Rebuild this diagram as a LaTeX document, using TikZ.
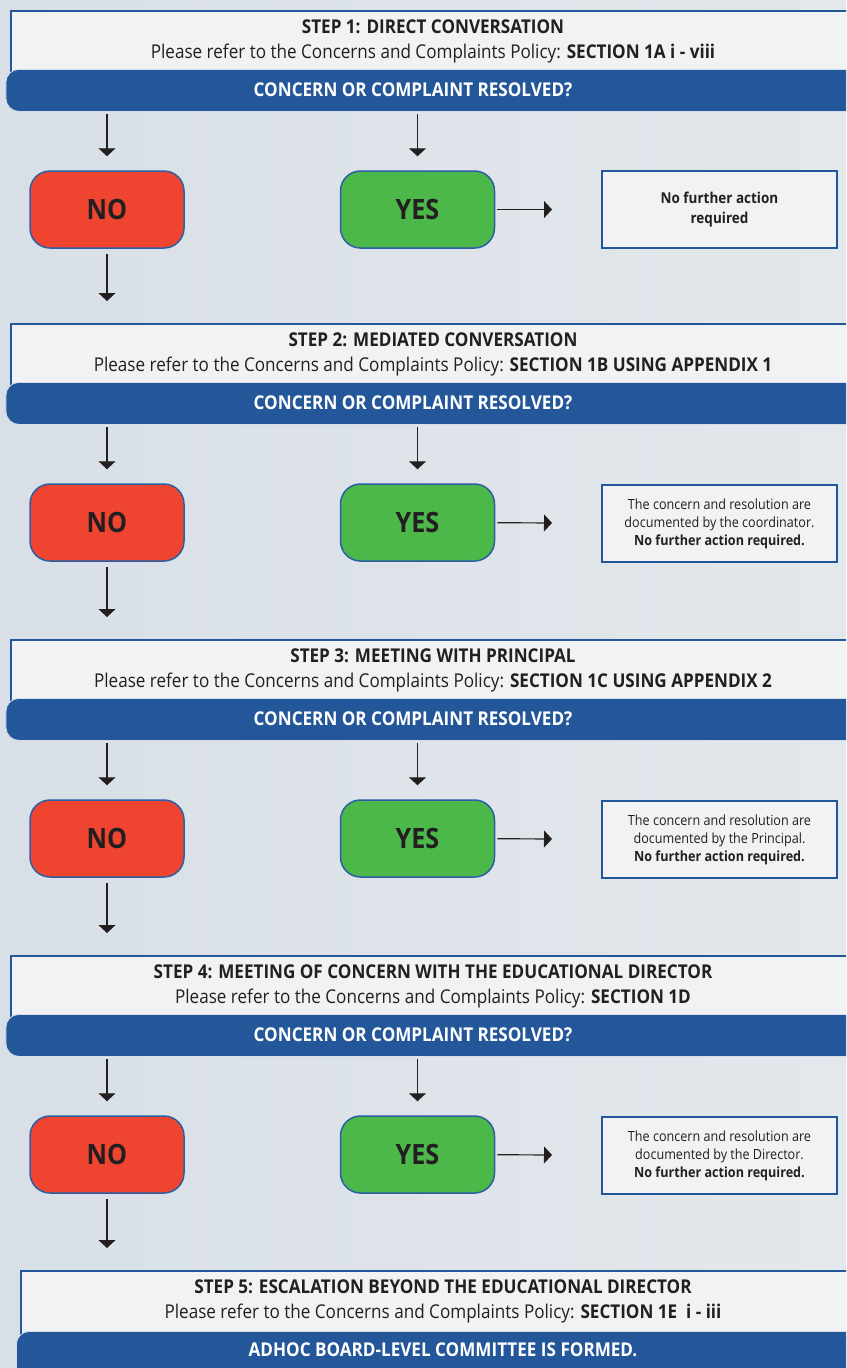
\documentclass[tikz,border=0pt]{standalone}
\usepackage{fontspec}
\setmainfont{Open Sans}[FakeStretch=0.9]
\usetikzlibrary{arrows.meta, positioning}
\usepackage{xcolor}
\definecolor{barblue}{HTML}{24579A}
\definecolor{edgeblue}{HTML}{2C5EA5}
\definecolor{hdrgray}{HTML}{F1F2F4}
\definecolor{nored}{HTML}{EF4530}
\definecolor{yesgreen}{HTML}{4CB84A}
\definecolor{txtdark}{HTML}{231F20}
\definecolor{bgleft}{HTML}{D8DFE6}
\definecolor{bgmid}{HTML}{E8ECEF}
\definecolor{bgright}{HTML}{E3E8EC}

\begin{document}
\begin{tikzpicture}[x=1pt, y=-1pt,
    hdrbox/.style={draw=barblue, line width=2pt, fill=hdrgray, anchor=north west,
        minimum width=900pt, minimum height=66pt, inner sep=0pt},
    hdrtext/.style={align=center, text=txtdark, inner sep=0pt,
        font=\fontsize{19}{25}\selectfont},
    bar/.style={fill=barblue, draw=white!80!barblue, line width=0.8pt, rounded corners=13pt,
        anchor=north west, minimum width=900pt, minimum height=42pt, inner sep=0pt},
    bartext/.style={text=white, inner sep=0pt, font=\fontsize{19}{22}\selectfont\bfseries},
    choice/.style={draw=edgeblue, line width=1.5pt, rounded corners=20pt, minimum width=154pt,
        minimum height=77pt, text=txtdark, font=\fontsize{28}{32}\selectfont\bfseries},
    nobox/.style={choice, fill=nored},
    yesbox/.style={choice, fill=yesgreen},
    infobox/.style={draw=barblue, line width=2pt, fill=hdrgray, minimum width=235pt,
        minimum height=77pt, align=center, text=txtdark, font=\fontsize{14}{18}\selectfont},
    arr/.style={-{Triangle[width=17pt,length=8pt]}, line width=1.2pt, draw=txtdark},
    downarr/.style={arr, shorten <=2pt, shorten >=14pt},
    sidearr/.style={arr, shorten <=2pt, shorten >=49pt},
    nextarr/.style={arr, shorten <=5pt, shorten >=22pt}]
    % Canvas
    \path[use as bounding box] (0,0) rectangle (846,1368);
    \clip (0,0) rectangle (846,1368);
    \fill[left color=bgleft, middle color=bgmid, right color=bgright] (0,0) rectangle (846,1368);
    % Step 1
    \node[hdrbox] (hdr1) at (10,10) {};
    \node[hdrtext] (hdr1txt) at (433,41) {\textbf{STEP 1: DIRECT CONVERSATION}\\Please refer to the Concerns and Complaints Policy: \textbf{SECTION 1A i - viii}};
    \node[bar] (bar1) at (5.5,69) {};
    \node[bartext] (bar1txt) at (413,90) {CONCERN OR COMPLAINT RESOLVED?};
    \node[nobox] (no1) at (107,209.5) {NO};
    \node[yesbox] (yes1) at (417.5,209.5) {YES};
    \node[infobox, font=\fontsize{15}{20}\selectfont] (info1) at (719.5,209.5) {\textbf{No further action}\\\textbf{required}};
    % Step 2
    \node[hdrbox] (hdr2) at (10,323) {};
    \node[hdrtext] (hdr2txt) at (433,354) {\textbf{STEP 2: MEDIATED CONVERSATION}\\Please refer to the Concerns and Complaints Policy: \textbf{SECTION 1B USING APPENDIX 1}};
    \node[bar] (bar2) at (5.5,382) {};
    \node[bartext] (bar2txt) at (413,403) {CONCERN OR COMPLAINT RESOLVED?};
    \node[nobox] (no2) at (107,522.5) {NO};
    \node[yesbox] (yes2) at (417.5,522.5) {YES};
    \node[infobox] (info2) at (719.5,523.5) {The concern and resolution are\\documented by the coordinator.\\\textbf{No further action required.}};
    % Step 3
    \node[hdrbox] (hdr3) at (10,639) {};
    \node[hdrtext] (hdr3txt) at (433,670) {\textbf{STEP 3: MEETING WITH PRINCIPAL}\\Please refer to the Concerns and Complaints Policy: \textbf{SECTION 1C USING APPENDIX 2}};
    \node[bar] (bar3) at (5.5,698) {};
    \node[bartext] (bar3txt) at (413,719) {CONCERN OR COMPLAINT RESOLVED?};
    \node[nobox] (no3) at (107,838.5) {NO};
    \node[yesbox] (yes3) at (417.5,838.5) {YES};
    \node[infobox] (info3) at (719.5,839.5) {The concern and resolution are\\documented by the Principal.\\\textbf{No further action required.}};
    % Step 4
    \node[hdrbox] (hdr4) at (10,955) {};
    \node[hdrtext] (hdr4txt) at (433,986) {\textbf{STEP 4: MEETING OF CONCERN WITH THE EDUCATIONAL DIRECTOR}\\Please refer to the Concerns and Complaints Policy: \textbf{SECTION 1D}};
    \node[bar] (bar4) at (5.5,1014) {};
    \node[bartext] (bar4txt) at (413,1035) {CONCERN OR COMPLAINT RESOLVED?};
    \node[nobox] (no4) at (107,1154.5) {NO};
    \node[yesbox] (yes4) at (417.5,1154.5) {YES};
    \node[infobox] (info4) at (719.5,1155.5) {The concern and resolution are\\documented by the Director.\\\textbf{No further action required.}};
    % Step 5
    \node[hdrbox] (hdr5) at (20,1270) {};
    \node[hdrtext] (hdr5txt) at (443,1301) {\textbf{STEP 5: ESCALATION BEYOND THE EDUCATIONAL DIRECTOR}\\Please refer to the Concerns and Complaints Policy: \textbf{SECTION 1E\ \ i - iii}};
    \node[bar, minimum height=60pt] (bar5) at (16,1331) {};
    \node[bartext] (bar5txt) at (443,1350) {ADHOC BOARD-LEVEL COMMITTEE IS FORMED.};
    % Arrows
    \draw[downarr] (bar1.south -| no1) -- (no1);
    \draw[downarr] (bar1.south -| yes1) -- (yes1);
    \draw[sidearr] (yes1) -- (info1);
    \draw[nextarr] (no1) -- (no1 |- hdr2.north);
    \draw[downarr] (bar2.south -| no2) -- (no2);
    \draw[downarr] (bar2.south -| yes2) -- (yes2);
    \draw[sidearr] (yes2) -- (info2);
    \draw[nextarr] (no2) -- (no2 |- hdr3.north);
    \draw[downarr] (bar3.south -| no3) -- (no3);
    \draw[downarr] (bar3.south -| yes3) -- (yes3);
    \draw[sidearr] (yes3) -- (info3);
    \draw[nextarr] (no3) -- (no3 |- hdr4.north);
    \draw[downarr] (bar4.south -| no4) -- (no4);
    \draw[downarr] (bar4.south -| yes4) -- (yes4);
    \draw[sidearr] (yes4) -- (info4);
    \draw[nextarr] (no4) -- (no4 |- hdr5.north);
\end{tikzpicture}
\end{document}
